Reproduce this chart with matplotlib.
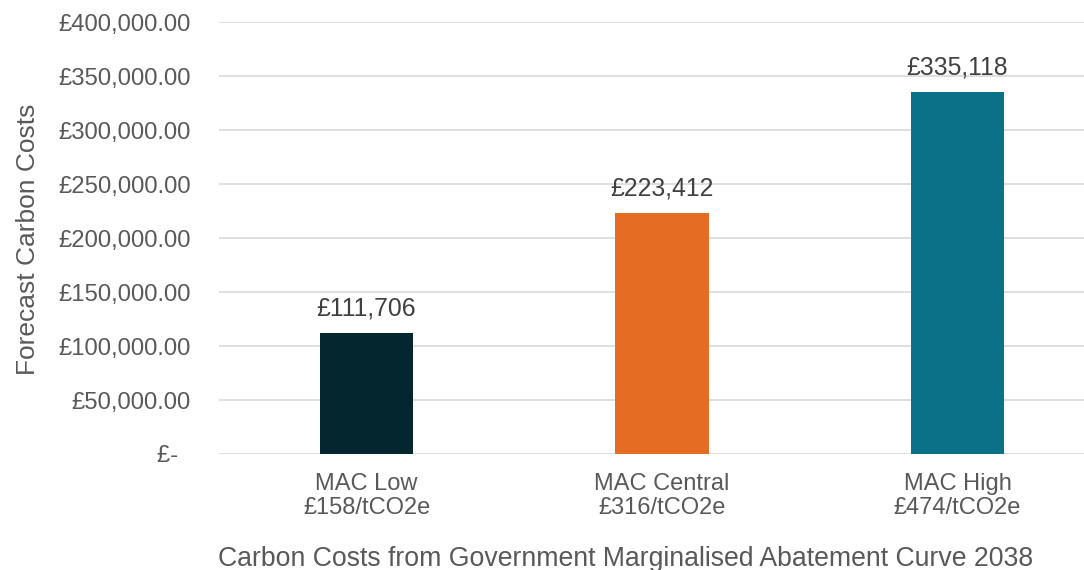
"""Forecast carbon costs under the three MAC scenarios (2038)."""

import matplotlib
matplotlib.use("Agg")
import matplotlib.pyplot as plt
from matplotlib.ticker import FixedLocator, FuncFormatter

scenarios = ["MAC Low\n£158/tCO2e", "MAC Central\n£316/tCO2e", "MAC High\n£474/tCO2e"]
costs = [111706, 223412, 335118]
bar_colors = ["#04262E", "#E46C23", "#0A7189"]
y_ticks = [0, 50000, 100000, 150000, 200000, 250000, 300000, 350000, 400000]

plt.rcParams["font.family"] = ["Liberation Sans", "DejaVu Sans"]
TEXT = "#595959"
GRID = "#D9D9D9"


def gbp_axis(v, _pos):
    # accounting style: zero shows as a dash
    if v == 0:
        return "£-  "
    return f"£{v:,.2f}"


fig = plt.figure(figsize=(10.84, 5.70), dpi=100)
ax = fig.add_axes([218.75 / 1084, 116 / 570, 886.5 / 1084, 432 / 570])

x = range(len(costs))
bars = ax.bar(x, costs, width=0.315, color=bar_colors, zorder=3)

for rect, val in zip(bars, costs):
    ax.annotate(f"£{val:,.0f}",
                xy=(rect.get_x() + rect.get_width() / 2, rect.get_height()),
                xytext=(0, 12.5), textcoords="offset points",
                ha="center", va="baseline", fontsize=17.8, color="#404040")

ax.set_xlim(-0.5, len(costs) - 0.5)
ax.set_ylim(0, 400000)
ax.yaxis.set_major_locator(FixedLocator(y_ticks))
ax.yaxis.set_major_formatter(FuncFormatter(gbp_axis))
ax.set_xticks(list(x))
ax.set_xticklabels(scenarios, linespacing=1.12)

ax.grid(axis="y", color=GRID, linewidth=1.2, zorder=0)
for s in ax.spines.values():
    s.set_visible(False)
ax.tick_params(axis="y", length=0, labelsize=17.2, colors=TEXT, pad=20)
ax.tick_params(axis="x", length=0, labelsize=17, colors=TEXT, pad=14)

ax.set_xlabel("Carbon Costs from Government Marginalised Abatement Curve 2038",
              fontsize=19.2, color=TEXT)
ax.xaxis.set_label_coords(626 / 1084, 4 / 570, transform=fig.transFigure)
ax.xaxis.label.set_va("baseline")
ax.set_ylabel("Forecast Carbon Costs", fontsize=19, color=TEXT)
ax.yaxis.set_label_coords(28 / 1084, (570 - 239) / 570, transform=fig.transFigure)
ax.yaxis.label.set_va("center")

fig.savefig("out.png", dpi=100)
